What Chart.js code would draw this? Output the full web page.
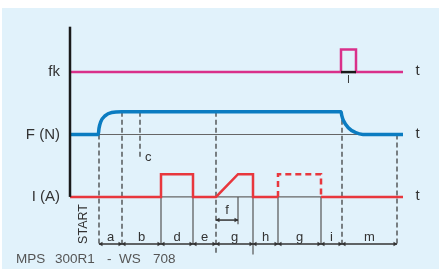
<!DOCTYPE html>
<html>
<head>
<meta charset="utf-8">
<script src="https://cdn.jsdelivr.net/npm/chart.js"></script>
<style>
  html, body { margin: 0; padding: 0; background: #fff; }
  #wrap { position: relative; width: 439px; height: 269px; overflow: hidden; }
  #bg { position: absolute; left: 2px; top: 8px; right: 0; bottom: 0; background: #e1f2fb; }
  canvas { position: absolute; left: 0; top: 0; }
</style>
</head>
<body>
<div id="wrap"><div id="bg"></div><canvas id="chart" width="439" height="269"></canvas></div>
<script>
// time marks (arbitrary time units)
var segNames = ['a', 'b', 'd', 'e', 'g', 'h', 'g', 'i', 'm'];
var segBounds = [29, 52, 91, 123, 146, 183, 208, 251, 272, 327];
var fSpan = [146, 168];
var cMark = 70;
var tEnd = 333;

// fk signal (0 = low, 1 = high)
var fkT = [0, 271, 271, 286, 286, 333];
var fkV = [0, 0, 1, 1, 0, 0];

// F (N) force curve
var forceT = [0, 28.3, 29, 30.7, 35, 41.7, 51.7, 271, 271.8, 273.3, 278.3, 285, 293, 333];
var forceV = [0, 0, 0.27, 0.56, 0.82, 0.97, 1, 1, 0.83, 0.63, 0.3, 0.1, 0, 0];

// I (A) current, solid parts
var currT = [0, 91, 91, 123, 123, 146, 168, 183, 183, 208, 230, 251, 333];
var currV = [0, 0, 1, 1, 0, 0, 1, 1, 0, 0, null, 0, 0];
// optional current pulse (dashed)
var dashT = [208, 208, 251, 251];
var dashV = [0, 1, 1, 0];

var rowLabels = ['fk', 'F (N)', 'I (A)'];

// layout (value units on the y scale)
var ROW_BASE = [5.5, 2.75, 0];
var AXIS_TOP = 7.5;
var DIM_Y = -2.07;
var FDIM_Y = -1.02;

function pts(ts, vs, base) {
  return ts.map(function (t, i) {
    return { x: t, y: vs[i] === null ? null : vs[i] + base };
  });
}

// vertical guides: [time, from, to]
var dashedGuides = [
  [segBounds[0], ROW_BASE[1], DIM_Y],
  [segBounds[1], ROW_BASE[1] + 1, DIM_Y],
  [cMark, ROW_BASE[1] + 1, 1.72],
  [segBounds[4], ROW_BASE[1] + 1, -2.54],
  [segBounds[8], ROW_BASE[1] + 1, DIM_Y],
  [segBounds[9], ROW_BASE[1], DIM_Y]
];
var solidGuides = [
  [segBounds[2], 0, DIM_Y],
  [segBounds[3], 0, DIM_Y],
  [fSpan[1], 0, -1.2],
  [segBounds[5], 0, -2.54],
  [segBounds[6], 0, DIM_Y],
  [segBounds[7], 0, DIM_Y]
];
function guidePts(list) {
  var out = [];
  list.forEach(function (g) {
    out.push({ x: g[0], y: g[1] }, { x: g[0], y: g[2] }, { x: g[0], y: null });
  });
  return out;
}

// arrow heads on the dimension lines
var arrowPts = [], arrowRot = [];
function addArrows(s, e, y) {
  arrowPts.push({ x: s + 2.2, y: y }); arrowRot.push(-90);
  arrowPts.push({ x: e - 2.2, y: y }); arrowRot.push(90);
}
for (var k = 0; k < segNames.length; k++) addArrows(segBounds[k], segBounds[k + 1], DIM_Y);
addArrows(fSpan[0], fSpan[1], FDIM_Y);

var FONT = '"Liberation Sans", Arial, sans-serif';

var textPlugin = {
  id: 'texts',
  afterDatasetsDraw: function (chart) {
    var ctx = chart.ctx, xs = chart.scales.x, ys = chart.scales.y;
    var x0 = xs.getPixelForValue(0);
    ctx.save();
    ctx.fillStyle = '#333';
    ctx.font = '15px ' + FONT;
    ctx.textBaseline = 'middle';
    ctx.textAlign = 'right';
    rowLabels.forEach(function (l, i) {
      ctx.fillText(l, x0 - 10, ys.getPixelForValue(ROW_BASE[i]));
    });
    ctx.textAlign = 'center';
    ROW_BASE.forEach(function (b) {
      ctx.fillText('t', xs.getPixelForValue(tEnd) + 14.5, ys.getPixelForValue(b) - 1);
    });

    ctx.font = '13px ' + FONT;
    ctx.textBaseline = 'alphabetic';
    var dimPx = ys.getPixelForValue(DIM_Y);
    segNames.forEach(function (n, i) {
      var mid = (segBounds[i] + segBounds[i + 1]) / 2;
      ctx.fillText(n, xs.getPixelForValue(mid), dimPx - 3);
    });
    ctx.fillText('f', xs.getPixelForValue((fSpan[0] + fSpan[1]) / 2), ys.getPixelForValue(FDIM_Y) - 6);
    ctx.textAlign = 'left';
    ctx.fillText('c', xs.getPixelForValue(cMark) + 5, ys.getPixelForValue(1.6));

    ctx.textAlign = 'center';
    ctx.textBaseline = 'middle';
    ctx.font = '11px ' + FONT;
    ctx.fillText('l', xs.getPixelForValue((fkT[1] + fkT[3]) / 2), ys.getPixelForValue(ROW_BASE[0]) + 8);

    // START (vertical)
    ctx.save();
    ctx.font = '12.5px ' + FONT;
    ctx.translate(84, 224);
    ctx.rotate(-Math.PI / 2);
    ctx.fillText('START', 0, 0);
    ctx.restore();

    // footer
    ctx.fillStyle = '#555';
    ctx.font = '13.5px ' + FONT;
    ctx.textAlign = 'left';
    ctx.textBaseline = 'alphabetic';
    [['MPS', 16], ['300R1', 55], ['-', 107], ['WS', 119], ['708', 153]].forEach(function (p) {
      ctx.fillText(p[0], p[1], 263);
    });
    ctx.restore();
  }
};

function lineSet(data, color, width, extra) {
  var ds = {
    data: data, showLine: true, borderColor: color, borderWidth: width,
    pointRadius: 0, fill: false, tension: 0, spanGaps: false, clip: false
  };
  for (var key in extra) ds[key] = extra[key];
  return ds;
}

new Chart(document.getElementById('chart'), {
  type: 'scatter',
  data: {
    datasets: [
      // baselines
      lineSet(pts([segBounds[0], tEnd], [0, 0], ROW_BASE[1]), '#666', 1.2, { order: 10 }),
      lineSet(pts([0, tEnd], [0, 0], ROW_BASE[2]), '#666', 1.2, { order: 10 }),
      // guides
      lineSet(guidePts(dashedGuides), '#333', 1.2, { borderDash: [5, 3], order: 9 }),
      lineSet(guidePts(solidGuides), '#555', 1.2, { order: 9 }),
      // dimension lines
      lineSet(pts([segBounds[0], segBounds[9]], [0, 0], DIM_Y), '#333', 1.5, { order: 8 }),
      lineSet(pts(fSpan, [0, 0], FDIM_Y), '#333', 1.5, { order: 8 }),
      {
        data: arrowPts, showLine: false, pointStyle: 'triangle', pointRadius: 2.6,
        pointRotation: arrowRot, pointBackgroundColor: '#333', pointBorderWidth: 0, order: 7, clip: false
      },
      // vertical axis
      lineSet([{ x: 0, y: 0 }, { x: 0, y: AXIS_TOP }], '#1a1a1a', 2.5, { order: 2 }),
      // signals
      lineSet(pts(fkT, fkV, ROW_BASE[0]), '#d9308a', 2.5, { order: 3 }),
      lineSet(pts([fkT[1], fkT[3]], [0, 0], ROW_BASE[0]), '#1a1a1a', 2.5, { order: 2 }),
      lineSet(pts(forceT, forceV, ROW_BASE[1]), '#0b7cc1', 3.5, { cubicInterpolationMode: 'monotone', order: 3 }),
      lineSet(pts(currT, currV, ROW_BASE[2]), '#e8373d', 2.5, { order: 3 }),
      lineSet(pts(dashT, dashV, ROW_BASE[2]), '#e8373d', 2.5, { borderDash: [6, 4], order: 3 })
    ]
  },
  options: {
    responsive: false,
    animation: false,
    devicePixelRatio: 1,
    layout: { padding: { left: 70, right: 36, top: 4, bottom: 0.5 } },
    plugins: { legend: { display: false }, tooltip: { enabled: false } },
    events: [],
    scales: {
      x: { type: 'linear', min: 0, max: tEnd, display: false },
      y: { type: 'linear', min: -3, max: 8.5, display: false }
    }
  },
  plugins: [textPlugin]
});
</script>
</body>
</html>
